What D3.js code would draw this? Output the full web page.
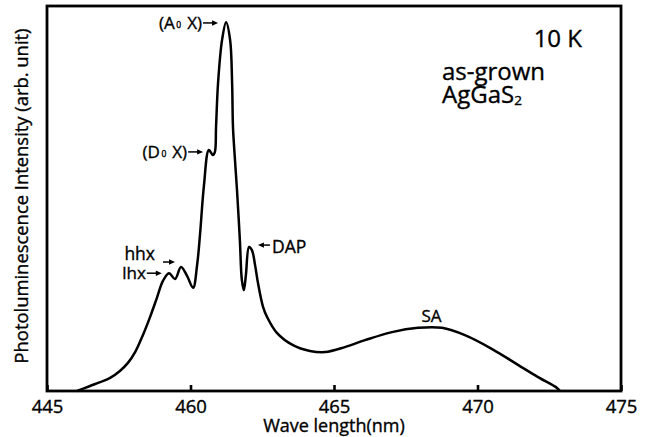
<!DOCTYPE html>
<html>
<head>
<meta charset="utf-8">
<script src="https://cdn.jsdelivr.net/npm/d3@7"></script>
<style>
  html, body { margin: 0; padding: 0; background: #fff; }
  svg { display: block; }
  text { font-family: "Open Sans", "Noto Sans", sans-serif; fill: #000; stroke: #000; stroke-width: 0.35px; }
</style>
</head>
<body>
<svg id="chart" width="650" height="437"></svg>
<script>
// ---- data ----
const wavelength = [456.05, 456.50, 456.85, 457.20, 457.54, 457.82, 458.07, 458.34, 458.59, 458.83,
  459.04, 459.25, 459.46, 459.67, 459.88, 460.09, 460.23, 460.33, 460.47, 460.64,
  460.78, 460.85, 460.89, 460.96, 461.10, 461.24, 461.38, 461.45, 461.48, 461.55,
  461.62, 461.72, 461.79, 461.86, 461.93, 462.04, 462.14, 462.25, 462.35, 462.53,
  462.67, 463.01, 463.57, 464.16, 464.69, 465.38, 466.08, 467.02, 467.93, 468.76,
  469.56, 470.51, 471.41, 472.11, 472.77, 472.87];
const intensity = [0, 1.3, 2.3, 3.4, 5.2, 7.3, 10.1, 14.5, 19.2, 24.2,
  28.6, 30.6, 29.1, 32.2, 29.9, 26.8, 32.7, 40.5, 53.5, 62.6,
  61.3, 62.1, 68.6, 80.0, 91.2, 95.8, 91.2, 80.0, 68.6, 60.0,
  52.2, 39.2, 28.8, 26.2, 30.1, 37.4, 36.6, 32.7, 28.1, 21.8,
  19.2, 15.1, 11.9, 10.4, 10.1, 11.4, 13.2, 15.3, 16.4, 16.4,
  14.5, 10.9, 6.8, 3.6, 0.8, 0];
const tickValues = [455, 460, 465, 470, 475];
const tickLabels = ["445", "460", "465", "470", "475"];

// peak annotations: arrow tip in data units, arrow direction
const peakLabels = [
  {main: "(A", sub: "0", rest: "X)", nm: 460.96, val: 95.6, dir: "right"},
  {main: "(D", sub: "0", rest: "X)", nm: 460.44, val: 62.1, dir: "right"},
  {main: "lhx", sub: "", rest: "", nm: 459.00, val: 30.6, dir: "right"},
  {main: "DAP", sub: "", rest: "", nm: 462.35, val: 37.9, dir: "left"}
];

// ---- layout ----
const svg = d3.select("#chart");
const mLeft = 47, mRight = 621, mTop = 6, mBottom = 391;

const x = d3.scaleLinear().domain([455, 475]).range([mLeft, mRight]);
const y = d3.scaleLinear().domain([0, 100]).range([mBottom, mTop]);

// frame
svg.append("rect")
  .attr("x", mLeft).attr("y", mTop)
  .attr("width", mRight - mLeft).attr("height", mBottom - mTop)
  .attr("fill", "none").attr("stroke", "#000").attr("stroke-width", 2.8);

// x axis
const xAxis = d3.axisBottom(x)
  .tickValues(tickValues)
  .tickFormat((d, i) => tickLabels[i])
  .tickSizeInner(-6).tickSizeOuter(0).tickPadding(9);
const gx = svg.append("g").attr("transform", `translate(0,${mBottom})`).call(xAxis);
gx.select(".domain").remove();
gx.selectAll(".tick line").attr("stroke", "#000").attr("stroke-width", 2.6);
gx.selectAll(".tick text")
  .attr("font-size", 18.5).attr("fill", "#000")
  .style("font-family", '"Open Sans", sans-serif');

// axis titles
svg.append("text")
  .attr("x", 334).attr("y", 432)
  .attr("text-anchor", "middle").attr("font-size", 18)
  .text("Wave length(nm)");
svg.append("text")
  .attr("transform", "translate(28,196) rotate(-90)")
  .attr("text-anchor", "middle").attr("font-size", 18.4)
  .text("Photoluminescence Intensity (arb. unit)");

// curve
const pts = wavelength.map((w, i) => [w, intensity[i]]);
const line = d3.line().x(d => x(d[0])).y(d => y(d[1])).curve(d3.curveCatmullRom.alpha(0.5));
svg.append("path")
  .datum(pts)
  .attr("d", line)
  .attr("fill", "none").attr("stroke", "#000")
  .attr("stroke-width", 2.5).attr("stroke-linejoin", "round");

// arrow helper
function arrow(x1, y1, x2, y2) {
  const g = svg.append("g");
  const dir = Math.sign(x2 - x1);
  g.append("line").attr("x1", x1).attr("y1", y1).attr("x2", x2 - dir * 4).attr("y2", y2)
    .attr("stroke", "#000").attr("stroke-width", 1.5);
  g.append("path")
    .attr("d", `M${x2},${y2} L${x2 - dir * 6},${y2 - 2.7} L${x2 - dir * 6},${y2 + 2.7} Z`)
    .attr("fill", "#000");
}

function labelText(tx, ty, d, anchor, size) {
  const t = svg.append("text").attr("x", tx).attr("y", ty)
    .attr("text-anchor", anchor).attr("font-size", size);
  t.append("tspan").text(d.main);
  if (d.sub) {
    t.append("tspan").attr("font-size", size * 0.5).attr("dx", 1.5).attr("dy", -1).text(d.sub);
    t.append("tspan").attr("dy", 1).attr("dx", 6).text(d.rest);
  }
  return t;
}

peakLabels.forEach(d => {
  const tx = x(d.nm), ty = y(d.val);
  if (d.dir === "right") {
    arrow(tx - 15, ty, tx, ty);
    labelText(tx - 16, ty + 6, d, "end", 17);
  } else {
    arrow(tx + 12, ty, tx, ty);
    labelText(tx + 14, ty + 8, d, "start", 17.5);
  }
});

// hhx label (text above, arrow below-right)
{
  const tx = x(459.46), ty = y(33.5);
  arrow(tx - 12, ty, tx, ty);
  svg.append("text").attr("x", tx - 20).attr("y", ty - 2)
    .attr("text-anchor", "end").attr("font-size", 17.5).text("hhx");
}

// SA label
svg.append("text").attr("x", x(468.4)).attr("y", y(17.9))
  .attr("text-anchor", "middle").attr("font-size", 17).text("SA");

// sample info
svg.append("text").attr("x", 582).attr("y", 47)
  .attr("text-anchor", "end").attr("font-size", 24).text("10 K");
svg.append("text").attr("x", 442).attr("y", 80)
  .attr("font-size", 24).text("as-grown");
{
  const t = svg.append("text").attr("x", 442).attr("y", 103)
    .attr("font-size", 24);
  t.append("tspan").text("AgGaS");
  t.append("tspan").attr("font-size", 13.5).attr("dy", 2).text("2");
}
</script>
</body>
</html>
